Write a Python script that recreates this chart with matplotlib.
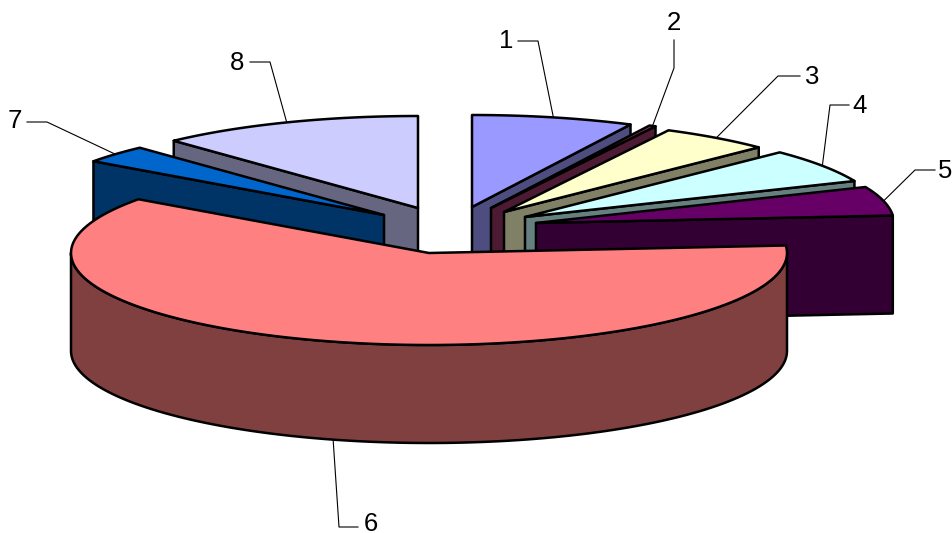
import numpy as np
import matplotlib
matplotlib.use('Agg')
import matplotlib.pyplot as plt
from matplotlib.patches import Polygon

plt.rcParams['font.family'] = ['Liberation Sans', 'DejaVu Sans']

# shares, in percent
LABELS = ['1', '2', '3', '4', '5', '6', '7', '8']
SHARES = [7.3, 0.3, 5.0, 6.0, 5.1, 61.23, 3.12, 11.95]

TOP_COLORS = ['#9999FF', '#993366', '#FFFFCC', '#CCFFFF',
              '#660066', '#FF8080', '#0066CC', '#CCCCFF']
SIDE_COLORS = ['#4D4D80', '#4D1A33', '#808066', '#668080',
               '#330033', '#804040', '#003366', '#666680']

# pie layout, in pixels of the figure
CENTER = (445, 235)
RX, RY = 358, 92
DEPTH = 98
EXPLODE_DX = [27, 46, 59, 80, 91, -16, -61, -27]
EXPLODE_DY = [-28, -27, -23, -18, -12, 18, -20, -27]

# label text position, then the elbow of its leader line
LABEL_POS = [(506, 41), (674, 23), (812, 77), (860, 106),
             (945, 171), (371, 524), (15, 121), (237, 63)]
ELBOWS = [(538, 41), (674, 68), (778, 76), (830, 105),
          (915, 170), (339, 527), (47, 122), (270, 62)]
TEXT_ENDS = [(518, 41), (674, 40), (800, 76), (849, 105),
             (935, 170), (358, 527), (27, 122), (250, 62)]

LINE_W = 1.8


def rim(apex, angles):
    # angles in degrees, clockwise from 12 o'clock
    rad = np.radians(angles)
    return np.column_stack([apex[0] + RX * np.sin(rad),
                            apex[1] - RY * np.cos(rad)])


def add_poly(ax, points, color, zorder):
    ax.add_patch(Polygon(points, closed=True, facecolor=color, edgecolor='black',
                         linewidth=LINE_W, joinstyle='round', zorder=zorder))


fig = plt.figure(figsize=(9.53, 5.33), dpi=100)
ax = fig.add_axes([0, 0, 1, 1])
ax.set_xlim(0, 953)
ax.set_ylim(533, 0)
ax.axis('off')

shares = np.array(SHARES, dtype=float)
edges = np.concatenate([[0], np.cumsum(shares) / shares.sum() * 360])
down = np.array([0, DEPTH])

# back slices first, the big front slice goes last
order = [7, 6, 0, 1, 2, 3, 4, 5]
for z, i in enumerate(order):
    start, end = edges[i], edges[i + 1]
    apex = np.array([CENTER[0] + EXPLODE_DX[i], CENTER[1] + EXPLODE_DY[i]])
    base = z * 10 + 1

    # cut faces that look toward the viewer
    for ang in (start, end):
        facing = np.sin(np.radians(ang)) < -1e-6 if ang == start else np.sin(np.radians(ang)) > 1e-6
        if facing:
            p = rim(apex, [ang])[0]
            add_poly(ax, [apex, p, p + down, apex + down], SIDE_COLORS[i], base)

    # outer wall, only the front half of the rim shows
    lo, hi = max(start, 90), min(end, 270)
    if hi > lo:
        arc = rim(apex, np.linspace(lo, hi, 120))
        add_poly(ax, np.vstack([arc, (arc + down)[::-1]]), SIDE_COLORS[i], base + 1)

    top = rim(apex, np.linspace(start, end, 120))
    add_poly(ax, np.vstack([apex, top]), TOP_COLORS[i], base + 2)

    # leader line starts at the middle of the slice rim
    mid = rim(apex, [(start + end) / 2])[0]
    if (start + end) / 2 > 90 and (start + end) / 2 < 270:
        mid = mid + down
    xs = [mid[0], ELBOWS[i][0], TEXT_ENDS[i][0]]
    ys = [mid[1], ELBOWS[i][1], TEXT_ENDS[i][1]]
    ax.plot(xs, ys, color='black', lw=0.8, zorder=0)
    ax.text(LABEL_POS[i][0], LABEL_POS[i][1], LABELS[i], fontsize=18.5,
            ha='center', va='center', color='black', zorder=200)

fig.savefig('out.png', dpi=100)
plt.close()
